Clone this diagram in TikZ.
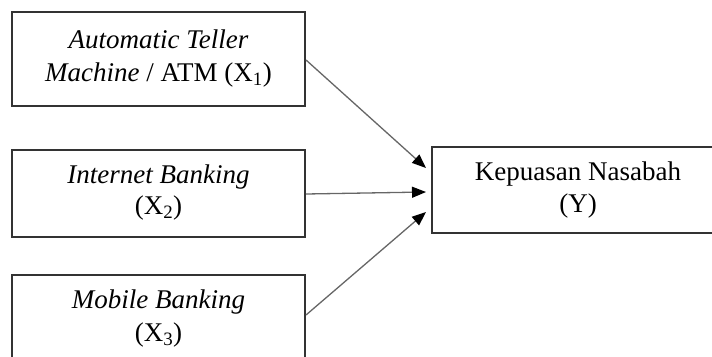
\documentclass[tikz,border=0pt]{standalone}
\usepackage{fontspec}
\setmainfont{Liberation Serif}
\usetikzlibrary{arrows.meta,calc}
\begin{document}
\begin{tikzpicture}[x=1pt,y=-1pt,
  varbox/.style={draw=black!80,line width=2pt,minimum width=293pt,align=center,
    font=\fontsize{27}{34}\selectfont,inner sep=0pt},
  conn/.style={draw=black!60,line width=1.3pt,-{Triangle[length=14pt,width=11pt,fill=black,color=black]}}]
\useasboundingbox (0,0) rectangle (712,356);
\begin{scope}
\clip (0,0) rectangle (712,356);
\node[varbox,minimum height=94pt] (b1) at (158.5,59) {\textit{Automatic Teller}\\[-1pt]\textit{Machine} / ATM (X\textsubscript{1})};
\node[varbox,minimum height=87pt] (b2) at (158.5,193) {\textit{Internet Banking}\\[-3pt](X\textsubscript{2})};
\node[varbox,minimum height=87pt] (b3) at (158.5,318.5) {\raisebox{4pt}{\textit{Mobile Banking}}\\[-1pt]\raisebox{4pt}{(X\textsubscript{3})}};
\node[varbox,minimum width=292pt,minimum height=86pt] (y) at (578,190) {Kepuasan Nasabah\\[-2pt](Y)};
\end{scope}
\coordinate (e1) at ($(y.west)+(-5,-22)$);
\coordinate (e2) at ($(y.west)+(-5,2)$);
\coordinate (e3) at ($(y.west)+(-5,22)$);
\draw[conn] ($(b1.east)+(0,1)$) -- (e1);
\draw[conn] ($(b2.east)+(0,1)$) -- (e2);
\draw[conn] ($(b3.east)+(0,-3.5)$) -- (e3);
\end{tikzpicture}
\end{document}
